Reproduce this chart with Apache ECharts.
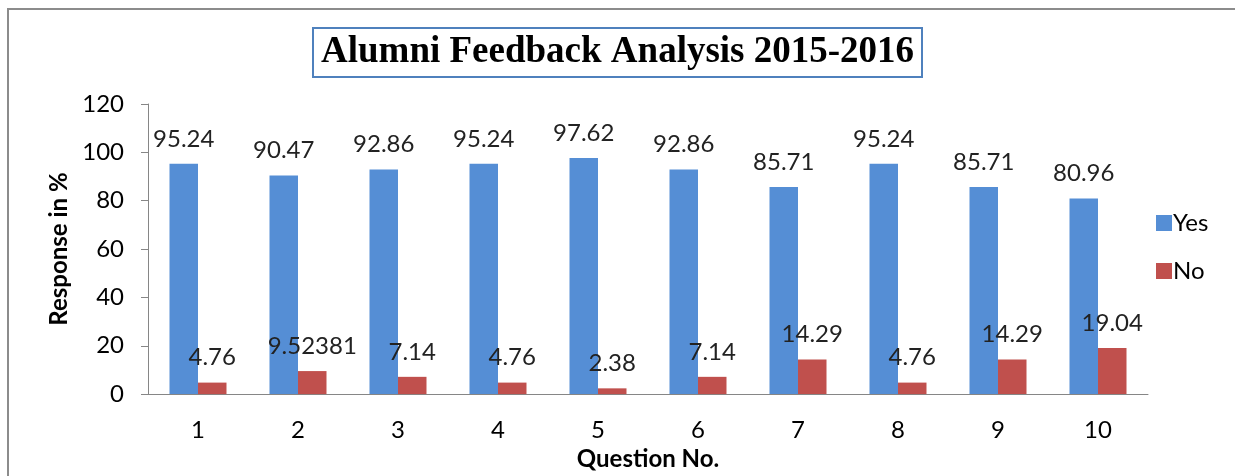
<!DOCTYPE html>
<html>
<head>
<meta charset="utf-8">
<script src="https://cdn.jsdelivr.net/npm/echarts@6/dist/echarts.min.js"></script>
<style>
  html, body { margin: 0; padding: 0; background: #fff; }
</style>
</head>
<body>
<div id="myChart" style="width: 1235px; height: 476px"></div>
<script>
const questions = ["1", "2", "3", "4", "5", "6", "7", "8", "9", "10"];
const yesValues = [95.24, 90.47, 92.86, 95.24, 97.62, 92.86, 85.71, 95.24, 85.71, 80.96];
const noValues = [4.76, 9.52381, 7.14, 4.76, 2.38, 7.14, 14.29, 4.76, 14.29, 19.04];

let myChart = echarts.init(document.getElementById("myChart"));
const font = "Lato";
let option = {
  animation: false,
  textStyle: { fontFamily: font },
  // outer chart frame
  graphic: [
    {
      type: "rect",
      shape: { x: 8, y: 9, width: 1400, height: 1000 },
      style: { fill: "none", stroke: "#8c8c8c", lineWidth: 2 },
      silent: true,
    },
  ],
  title: {
    text: "Alumni Feedback Analysis 2015-2016",
    left: 313,
    top: 28,
    padding: [6, 8, 6, 8],
    borderColor: "#4f81bd",
    borderWidth: 2,
    textStyle: {
      fontFamily: "Liberation Serif",
      fontWeight: "bold",
      fontSize: 37,
      color: "#000",
    },
  },
  legend: {
    orient: "vertical",
    left: 1151,
    top: 206,
    itemWidth: 16,
    itemHeight: 16,
    itemGap: 24,
    icon: "rect",
    textStyle: { fontSize: 24, color: "#000", fontFamily: font, padding: [0, 0, 0, -4] },
    data: ["Yes", "No"],
  },
  grid: { left: 148, right: 87, top: 104, bottom: 78 },
  xAxis: {
    type: "category",
    data: questions,
    name: "Question No.",
    nameLocation: "middle",
    nameGap: 52,
    nameTextStyle: { fontSize: 24, fontWeight: "bold", color: "#000", fontFamily: font },
    axisLine: { lineStyle: { color: "#868686", width: 1 } },
    axisTick: { length: 7, lineStyle: { color: "#868686" } },
    axisLabel: { fontSize: 24, color: "#000", margin: 24, fontFamily: font },
  },
  yAxis: {
    type: "value",
    min: 0,
    max: 120,
    interval: 20,
    name: "Response in %",
    nameLocation: "middle",
    nameGap: 76,
    nameTextStyle: { fontSize: 24, fontWeight: "bold", color: "#000", fontFamily: font },
    axisLine: { show: true, lineStyle: { color: "#868686", width: 1 } },
    axisTick: { show: true, length: 7, lineStyle: { color: "#868686" } },
    axisLabel: { fontSize: 24, color: "#000", margin: 24, fontFamily: font },
    splitLine: { show: false },
  },
  series: [
    {
      name: "Yes",
      type: "bar",
      data: yesValues,
      barGap: "0%",
      barCategoryGap: "43%",
      itemStyle: { color: "#558ed5" },
      label: {
        show: true,
        position: "top",
        distance: 13,
        fontSize: 24,
        color: "#222",
        fontFamily: font,
      },
    },
    {
      name: "No",
      type: "bar",
      data: noValues,
      itemStyle: { color: "#c0504d" },
      label: {
        show: true,
        position: "top",
        distance: 13,
        fontSize: 24,
        color: "#222",
        fontFamily: font,
      },
    },
  ],
};
myChart.setOption(option);
</script>
</body>
</html>
